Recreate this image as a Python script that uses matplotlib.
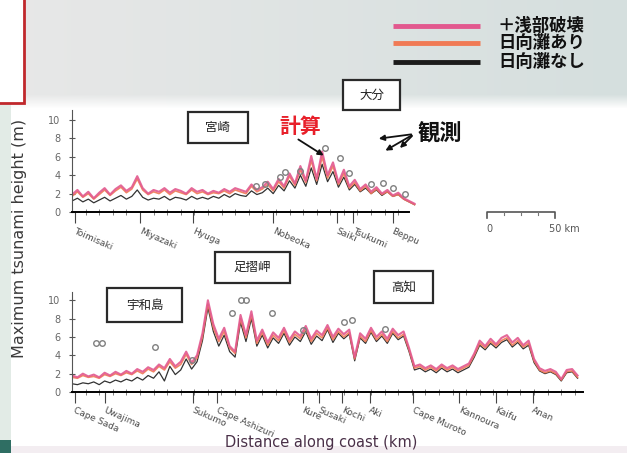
import numpy as np
import matplotlib
matplotlib.use("Agg")
import matplotlib.pyplot as plt
from matplotlib.patches import Rectangle
from matplotlib.colors import to_rgb

W, H = 627, 453
JP = ["Noto Sans CJK JP", "DejaVu Sans"]

# Series names (legend)
SERIES = ["＋浅部破壊", "日向灘あり", "日向灘なし"]
COLORS = ["#e2588e", "#f07a55", "#1c1c1c"]
WIDTHS = [1.5, 1.2, 0.9]

# Upper panel: Kyushu east coast, heights every 4 km (m)
up_shallow = [1.9, 2.4, 1.7, 2.2, 1.5, 2.1, 2.6, 1.9, 2.5, 2.9, 2.3, 2.7, 3.9, 2.6, 2.0, 2.4,
              2.2, 2.6, 2.1, 2.5, 2.3, 2.0, 2.6, 2.2, 2.4, 2.0, 2.3, 2.1, 2.5, 2.2, 2.6, 2.4,
              2.2, 3.0, 2.4, 2.7, 3.3, 2.5, 3.6, 2.8, 4.2, 3.1, 5.0, 3.4, 6.1, 3.6, 6.6, 4.0,
              5.4, 3.2, 4.6, 2.8, 3.5, 2.5, 3.0, 2.2, 2.7, 2.0, 2.4, 1.8, 2.1, 1.5, 1.2, 0.9]
up_with = [1.7, 2.2, 1.6, 2.0, 1.4, 1.9, 2.4, 1.8, 2.3, 2.7, 2.1, 2.5, 3.6, 2.4, 1.9, 2.2,
           2.0, 2.4, 1.9, 2.3, 2.1, 1.9, 2.4, 2.0, 2.2, 1.9, 2.1, 2.0, 2.3, 2.0, 2.4, 2.2,
           2.0, 2.8, 2.2, 2.5, 3.0, 2.3, 3.3, 2.6, 3.9, 2.9, 4.6, 3.2, 5.6, 3.4, 6.0, 3.7,
           5.0, 3.0, 4.2, 2.6, 3.2, 2.3, 2.8, 2.0, 2.5, 1.9, 2.2, 1.7, 1.9, 1.4, 1.1, 0.8]
up_without = [1.2, 1.5, 1.1, 1.4, 1.0, 1.3, 1.6, 1.2, 1.5, 1.8, 1.4, 1.7, 2.4, 1.6, 1.3, 1.5,
              1.4, 1.7, 1.3, 1.6, 1.5, 1.3, 1.7, 1.4, 1.6, 1.4, 1.7, 1.5, 1.9, 1.6, 2.0, 1.8,
              1.7, 2.3, 1.9, 2.1, 2.6, 2.0, 2.9, 2.3, 3.4, 2.6, 4.0, 2.8, 4.8, 3.0, 5.2, 3.3,
              4.4, 2.7, 3.8, 2.4, 3.0, 2.2, 2.6, 2.0, 2.4, 1.8, 2.2, 1.7, 1.9, 1.4, 1.1, 0.8]
up_obs_km = [135, 142, 153, 157, 168, 186, 197, 204, 220, 229, 236, 245]
up_obs_h = [2.8, 3.0, 3.8, 4.3, 4.5, 7.0, 5.9, 4.2, 3.0, 3.2, 2.6, 2.0]
up_places = [(2, "Toimisaki"), (50, "Miyazaki"), (89, "Hyuga"), (148, "Nobeoka"),
             (195, "Saiki"), (207, "Tsukumi"), (236, "Beppu")]

# Lower panel: Shikoku Pacific coast, heights every 4 km (m)
lo_shallow = [1.8, 1.6, 2.0, 1.7, 1.9, 1.6, 2.1, 1.8, 2.2, 1.9,
              2.3, 2.0, 2.5, 2.2, 2.7, 2.4, 3.0, 2.6, 3.6, 2.8,
              3.3, 4.4, 3.2, 4.0, 6.4, 10.0, 7.4, 5.8, 7.0, 5.0,
              4.4, 8.4, 6.2, 8.8, 5.6, 6.8, 5.4, 6.5, 5.9, 7.0,
              5.7, 6.6, 6.1, 7.2, 5.8, 6.7, 6.2, 7.3, 6.0, 6.9,
              6.3, 6.8, 3.8, 6.4, 5.8, 7.0, 6.0, 6.6, 5.8, 6.9,
              6.2, 6.6, 4.8, 2.8, 3.0, 2.6, 2.9, 2.5, 3.0, 2.6,
              2.9, 2.5, 2.8, 3.1, 4.2, 5.6, 5.0, 5.8, 5.2, 5.9,
              6.2, 5.4, 5.9, 5.1, 5.6, 3.6, 2.6, 2.3, 2.5, 2.2,
              1.4, 2.4, 2.5, 1.8]
lo_with = [1.6, 1.5, 1.8, 1.6, 1.7, 1.5, 1.9, 1.7, 2.0, 1.8,
           2.1, 1.9, 2.3, 2.0, 2.5, 2.2, 2.8, 2.4, 3.3, 2.6,
           3.0, 4.1, 3.0, 3.7, 6.0, 9.6, 7.0, 5.5, 6.6, 4.8,
           4.2, 8.0, 5.9, 8.4, 5.3, 6.5, 5.1, 6.2, 5.6, 6.7,
           5.4, 6.3, 5.8, 6.9, 5.5, 6.4, 5.9, 7.0, 5.7, 6.6,
           6.0, 6.5, 3.6, 6.1, 5.5, 6.7, 5.7, 6.3, 5.5, 6.6,
           5.9, 6.3, 4.6, 2.6, 2.8, 2.4, 2.7, 2.3, 2.8, 2.4,
           2.7, 2.3, 2.6, 2.9, 4.0, 5.3, 4.8, 5.5, 5.0, 5.6,
           5.9, 5.1, 5.6, 4.9, 5.3, 3.4, 2.4, 2.1, 2.3, 2.0,
           1.3, 2.2, 2.3, 1.6]
lo_without = [0.9, 0.8, 1.0, 0.9, 1.1, 0.8, 1.2, 1.0, 1.3, 1.1,
              1.4, 1.2, 1.6, 1.3, 1.8, 1.5, 2.2, 1.2, 2.8, 1.9,
              2.4, 3.6, 2.5, 3.3, 5.6, 9.2, 6.6, 5.0, 6.2, 4.4,
              3.8, 7.6, 5.5, 8.0, 5.0, 6.2, 4.8, 5.9, 5.3, 6.4,
              5.1, 6.0, 5.5, 6.6, 5.2, 6.1, 5.6, 6.8, 5.4, 6.4,
              5.8, 6.3, 3.4, 5.9, 5.3, 6.5, 5.5, 6.1, 5.3, 6.4,
              5.7, 6.1, 4.4, 2.4, 2.6, 2.2, 2.5, 2.1, 2.6, 2.2,
              2.5, 2.1, 2.4, 2.7, 3.8, 5.1, 4.6, 5.3, 4.8, 5.4,
              5.7, 4.9, 5.4, 4.7, 5.1, 3.2, 2.3, 2.0, 2.2, 1.9,
              1.2, 2.1, 2.2, 1.5]
lo_obs_km = [18, 22, 61, 88, 118, 124, 128, 147, 170, 200, 206, 230]
lo_obs_h = [5.3, 5.3, 4.9, 3.5, 8.6, 10.0, 10.0, 8.6, 6.8, 7.6, 7.8, 6.9]
lo_places = [(2, "Cape Sada"), (24, "Uwajima"), (89, "Sukumo"),
             (107, "Cape Ashizuri"), (170, "Kure"), (182, "Susaki"), (199, "Kochi"),
             (219, "Aki"), (251, "Cape Muroto"), (285, "Kannoura"), (312, "Kaifu"),
             (339, "Anan")]

STEP_KM = 4


def px_axes(fig, x0, y0, x1, y1, **kw):
    """Axes placed by pixel box (top-left origin)."""
    return fig.add_axes([x0 / W, 1 - y1 / H, (x1 - x0) / W, (y1 - y0) / H], **kw)


def draw_profile(ax, series, obs_km, obs_h, places, xmax, ymax, spine_end):
    # black first so the pink/orange runs sit on top
    for vals, c, lw in reversed(list(zip(series, COLORS, WIDTHS))):
        km = np.arange(len(vals)) * STEP_KM
        ax.plot(km, vals, color=c, lw=lw, alpha=0.9)
    ax.plot(obs_km, obs_h, "o", ms=4, mfc="none", mec="#808080", mew=1.0)

    ax.set_xlim(0, xmax)
    ax.set_ylim(0, ymax)
    ax.patch.set_alpha(0)
    for s in ("top", "right"):
        ax.spines[s].set_visible(False)
    ax.spines["bottom"].set_bounds(0, spine_end)
    ax.spines["bottom"].set_linewidth(1.4)
    ax.spines["left"].set_color("#555")

    ax.set_yticks([0, 2, 4, 6, 8, 10])
    ax.tick_params(axis="y", labelsize=7, labelcolor="#666", direction="inout",
                   length=5, color="#555", pad=6)
    ax.set_xticks([p[0] for p in places])
    ax.set_xticklabels([])
    ax.set_xticks(np.arange(10, spine_end, 10), minor=True)
    ax.tick_params(axis="x", which="major", direction="out", length=8, color="#444")
    ax.tick_params(axis="x", which="minor", direction="inout", length=4, color="#666")
    for km, name in places:
        ax.text(km + 1, -0.14, name, transform=ax.get_xaxis_transform(),
                rotation=-24, rotation_mode="anchor", ha="left", va="top",
                fontsize=6.5, color="#4a4a4a")


fig = plt.figure(figsize=(W / 100, H / 100), dpi=100)

# slide background
bg = fig.add_axes([0, 0, 1, 1], zorder=-10)
bg.set_xlim(0, W)
bg.set_ylim(H, 0)
bg.axis("off")
c_left = np.array(to_rgb("#e8e8e8"))
c_right = np.array(to_rgb("#d5dfde"))
t = np.linspace(0, 1, 200)[None, :, None]
band = c_left * (1 - t) + c_right * t
fade = np.clip((108 - np.arange(108)) / 14, 0, 1)[:, None, None]
band = band * fade + (1 - fade)
bg.imshow(band, extent=[0, W, 108, 0], aspect="auto", interpolation="bilinear")
bg.add_patch(Rectangle((0, 104), 11, H - 104, fc="#e2ebe6", ec="none"))
bg.add_patch(Rectangle((0, 440), 11, 13, fc="#2f6e63", ec="none"))
bg.add_patch(Rectangle((11, 446), W, 7, fc="#f3edf1", ec="none"))
bg.add_patch(Rectangle((-5, -5), 29, 108, fc="white", ec="#c0282c", lw=2))

ax1 = px_axes(fig, 72, 110, 420, 212)
draw_profile(ax1, [up_shallow, up_with, up_without], up_obs_km, up_obs_h,
             up_places, 256, 11.1, 248)

# 50 km scale bar
ax1.plot([305, 305, 355, 355], [-0.7, 0, 0, -0.7], color="#555", lw=1.2, clip_on=False)
for k in (317.5, 330, 342.5):
    ax1.plot([k, k], [0, -0.3], color="#777", lw=0.8, clip_on=False)
ax1.text(307, -1.9, "0", fontsize=7, color="#555", ha="center", va="center")
ax1.text(362, -1.9, "50 km", fontsize=7, color="#555", ha="center", va="center")

ax2 = px_axes(fig, 72, 292, 583, 392)
draw_profile(ax2, [lo_shallow, lo_with, lo_without], lo_obs_km, lo_obs_h,
             lo_places, 376, 10.9, 376)

# overlay: boxes, legend, annotations, axis titles
ov = fig.add_axes([0, 0, 1, 1], zorder=10)
ov.set_xlim(0, W)
ov.set_ylim(H, 0)
ov.axis("off")


def label_box(x0, y0, x1, y1, text):
    ov.add_patch(Rectangle((x0, y0), x1 - x0, y1 - y0, fc="white", ec="#2a2a2a", lw=1.6))
    ov.text((x0 + x1) / 2, (y0 + y1) / 2, text, ha="center", va="center",
            fontsize=9, family=JP, color="#222")


label_box(188, 112, 248, 143, "宮崎")
label_box(343, 80, 400, 110, "大分")
label_box(215, 252, 290, 283, "足摺岬")
label_box(107, 288, 182, 322, "宇和島")
label_box(374, 271, 433, 303, "高知")

ov.text(300, 126, "計算", fontsize=15, fontweight="bold", color="#e8202a",
        family=JP, ha="center", va="center")
ov.annotate("", xy=(326, 157), xytext=(296, 138),
            arrowprops=dict(arrowstyle="-|>", color="#111", lw=1.3, mutation_scale=8))
ov.text(440, 134, "観測", fontsize=16, fontweight="bold", color="#111", family=JP,
        ha="center", va="center")
for tip in [(376, 139), (383, 152), (398, 150)]:
    ov.annotate("", xy=tip, xytext=(414, 134),
                arrowprops=dict(arrowstyle="-|>", color="#111", lw=1.3, mutation_scale=8))

for name, c, y in zip(SERIES, COLORS, [26, 43, 62]):
    ov.plot([393, 480], [y, y], color=c, lw=3.5, solid_capstyle="butt")
    ov.text(498, y, name, fontsize=12.5, fontweight="bold", family=JP,
            color="#111", ha="left", va="center")

ov.text(20, 238, "Maximum tsunami height (m)", rotation=90, ha="center", va="center",
        fontsize=11.5, color="#3a3a3a")
ov.text(321, 443, "Distance along coast (km)", ha="center", va="center",
        fontsize=10.5, color="#4a3048")

fig.savefig("out.png", dpi=100)
